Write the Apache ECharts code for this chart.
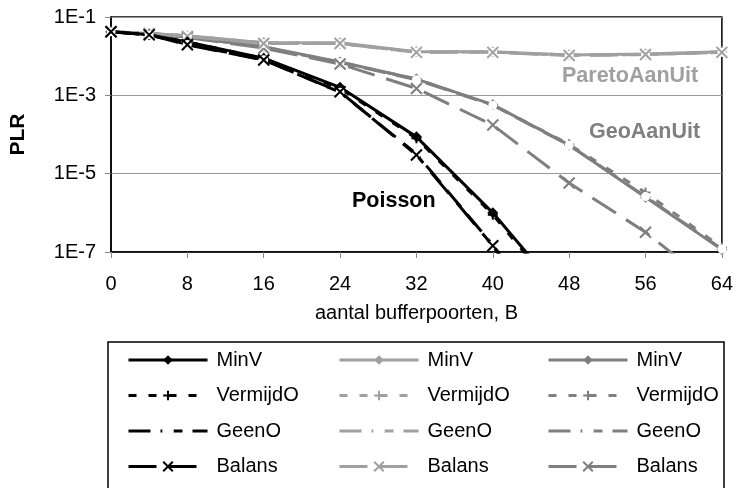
<!DOCTYPE html>
<html>
<head>
<meta charset="utf-8">
<script src="https://cdn.jsdelivr.net/npm/echarts@6/dist/echarts.min.js"></script>
<style>
  html, body { margin: 0; padding: 0; background: #fff; }
  #chart { width: 736px; height: 488px; }
</style>
</head>
<body>
<div id="chart"></div>
<script>
// buffer sizes (x) shared by all series
const buffers = [0, 4, 8, 16, 24, 32, 40, 48, 56, 64];

// Poisson source
const poissonMinV     = [0.042, 0.035, 0.023, 0.0089, 0.0016, 8.7e-5, 1.0e-6, 5e-9, null, null];
const poissonVermijdO = [0.042, 0.035, 0.023, 0.0087, 0.0015, 8.0e-5, 9e-7, 4e-9, null, null];
const poissonGeenO    = [0.042, 0.035, 0.020, 0.0081, 0.0012, 3.2e-5, 1.5e-7, 3e-10, null, null];
const poissonBalans   = [0.042, 0.035, 0.0195, 0.0080, 0.00123, 3.0e-5, 1.45e-7, 2e-10, null, null];

// ParetoAanUit source
const paretoMinV     = [0.042, 0.038, 0.033, 0.022, 0.022, 0.013, 0.013, 0.0107, 0.0114, 0.0129];
const paretoVermijdO = [0.042, 0.038, 0.033, 0.022, 0.021, 0.013, 0.0128, 0.0107, 0.0112, 0.0129];
const paretoGeenO    = [0.042, 0.038, 0.033, 0.021, 0.021, 0.0127, 0.0127, 0.0105, 0.011, 0.0125];
const paretoBalans   = [0.042, 0.038, 0.032, 0.021, 0.021, 0.0125, 0.0125, 0.0104, 0.011, 0.0125];

// GeoAanUit source
const geoMinV     = [0.042, 0.037, 0.031, 0.0174, 0.0071, 0.0026, 0.00058, 5.4e-5, 2.5e-6, 1.15e-7];
const geoVermijdO = [0.042, 0.037, 0.031, 0.0172, 0.0070, 0.0026, 0.00057, 5.6e-5, 3.3e-6, 1.3e-7];
const geoGeenO    = [0.042, 0.037, 0.031, 0.0170, 0.0069, 0.0025, 0.00056, 5.3e-5, 2.6e-6, 1.2e-7];
const geoBalans   = [0.042, 0.037, 0.030, 0.0160, 0.0063, 0.0015, 0.000174, 5.8e-6, 3.2e-7, 9e-9];

const xTicks = [0, 8, 16, 24, 32, 40, 48, 56, 64];

const FONT = "'Liberation Sans', Arial, sans-serif";
const BLACK = "#000000";
const LIGHT = "#a0a0a0";
const MID = "#7f7f7f";

const PLUS = "path://M5,0 L5,10 M0,5 L10,5";
const CROSS = "path://M0,0 L10,10 M10,0 L0,10";

function makeSeries(name, ys, color, kind) {
  const s = {
    name: name,
    type: "line",
    data: buffers.map((x, i) => [x, ys[i]]),
    lineStyle: { color: color, width: 3 },
    itemStyle: { color: color, borderColor: color },
    clip: true,
    z: 2
  };
  if (kind === "MinV") {
    s.symbol = "diamond";
    s.symbolSize = 11;
    s.itemStyle.borderWidth = 0;
  } else if (kind === "VermijdO") {
    s.symbol = PLUS;
    s.symbolSize = 10;
    s.lineStyle.type = [8, 12];
    s.itemStyle.borderWidth = 2;
  } else if (kind === "GeenO") {
    s.symbol = "emptyCircle";
    s.symbolSize = 7;
    s.lineStyle.type = [22, 10];
    s.itemStyle.borderWidth = 1.5;
    s.itemStyle.color = "#fff";
  } else {
    s.symbol = CROSS;
    s.symbolSize = 11;
    s.lineStyle.type = [28, 12];
    s.itemStyle.borderWidth = 2;
  }
  return s;
}

const groups = [
  ["Geo", [geoMinV, geoVermijdO, geoGeenO, geoBalans], MID],
  ["Pareto", [paretoMinV, paretoVermijdO, paretoGeenO, paretoBalans], LIGHT],
  ["Poisson", [poissonMinV, poissonVermijdO, poissonGeenO, poissonBalans], BLACK]
];
const kinds = ["MinV", "VermijdO", "GeenO", "Balans"];

const series = [];
groups.forEach(([g, arrs, color]) => {
  arrs.forEach((ys, k) => series.push(makeSeries(g + " " + kinds[k], ys, color, kinds[k])));
});

function legendFor(group, left) {
  return {
    orient: "vertical",
    left: left,
    top: 350,
    padding: 0,
    itemWidth: 79,
    itemHeight: 12,
    itemGap: 15.5,
    selectedMode: false,
    lineStyle: { width: 3 },
    data: kinds.map(k => group + " " + k),
    formatter: n => n.split(" ")[1],
    textStyle: { fontFamily: FONT, fontSize: 20, color: "#000", padding: [0, 0, 0, 4] }
  };
}

const chart = echarts.init(document.getElementById("chart"));
chart.setOption({
  animation: false,
  backgroundColor: "#fff",
  grid: {
    left: 110, right: 12, top: 17, bottom: 236,
    show: true, borderColor: "#000", borderWidth: 1.5
  },
  xAxis: {
    type: "value",
    min: xTicks[0], max: xTicks[xTicks.length - 1], interval: 8,
    name: "aantal bufferpoorten, B",
    nameLocation: "middle",
    nameGap: 51,
    nameTextStyle: { fontFamily: FONT, fontSize: 20, color: "#000" },
    axisLine: { lineStyle: { color: "#000", width: 1.5 } },
    axisTick: { show: true, length: 6, lineStyle: { color: "#888" } },
    axisLabel: { fontFamily: FONT, fontSize: 20, color: "#000", margin: 22 },
    splitLine: { show: false }
  },
  yAxis: {
    type: "log",
    logBase: 10,
    min: 1e-7, max: 1e-1,
    interval: 2,
    name: "PLR",
    nameLocation: "middle",
    nameGap: 82,
    nameTextStyle: { fontFamily: FONT, fontSize: 21, fontWeight: "bold", color: "#000" },
    axisLine: { show: true, lineStyle: { color: "#000", width: 1.5 } },
    axisTick: { show: true, length: 6, lineStyle: { color: "#888" } },
    axisLabel: {
      fontFamily: FONT, fontSize: 20, color: "#000", margin: 15,
      formatter: v => "1E" + Math.round(Math.log10(v))
    },
    splitLine: { show: true, lineStyle: { color: "#999", width: 1 } }
  },
  legend: [legendFor("Poisson", 127), legendFor("Pareto", 338), legendFor("Geo", 547)],
  graphic: [
    { type: "rect", shape: { x: 108, y: 342, width: 616, height: 170 },
      style: { fill: "none", stroke: "#000", lineWidth: 1.5 }, z: 0 },
    { type: "text", left: 562, top: 65,
      style: { text: "ParetoAanUit", fontFamily: FONT, fontSize: 21.5, fontWeight: "bold", fill: LIGHT } },
    { type: "text", left: 589, top: 121,
      style: { text: "GeoAanUit", fontFamily: FONT, fontSize: 21.5, fontWeight: "bold", fill: MID } },
    { type: "text", left: 352, top: 190,
      style: { text: "Poisson", fontFamily: FONT, fontSize: 21.5, fontWeight: "bold", fill: BLACK } }
  ],
  series: series
});
</script>
</body>
</html>
